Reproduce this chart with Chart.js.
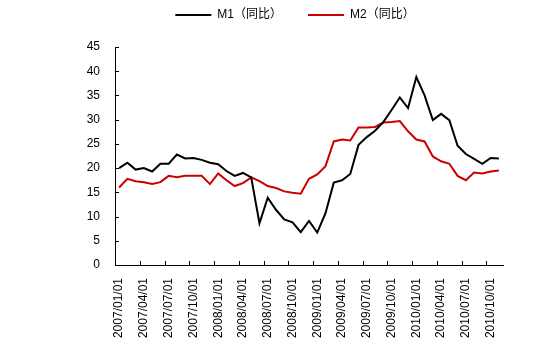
<!DOCTYPE html>
<html lang="zh">
<head>
<meta charset="UTF-8">
<title>M1 / M2 同比</title>
<script src="https://cdn.jsdelivr.net/npm/chart.js"></script>
<style>
    html, body { margin: 0; padding: 0; background: #fff; }
    #wrap { width: 550px; height: 354px; }
</style>
</head>
<body>
<div id="wrap"><canvas id="chart" width="550" height="354"></canvas></div>
<script>
    // 月度数据 2007/01 - 2010/11
    const months = [];
    for (let y = 2007; y <= 2010; y++) {
        for (let m = 1; m <= 12; m++) {
            if (y === 2010 && m > 11) break;
            months.push(y + '/' + String(m).padStart(2, '0') + '/01');
        }
    }

    const m1 = [20.0, 21.1, 19.7, 20.0, 19.3, 20.9, 20.9, 22.8, 22.0, 22.1, 21.7, 21.1,
                20.8, 19.4, 18.4, 19.0, 18.1, 8.6, 13.9, 11.4, 9.4, 8.8, 6.8, 9.1,
                6.7, 10.7, 17.0, 17.5, 18.8, 24.8, 26.4, 27.7, 29.5, 32.0, 34.6, 32.4,
                38.8, 35.0, 29.9, 31.2, 29.9, 24.6, 22.9, 21.9, 20.9, 22.1, 22.0];

    const m2 = [16.0, 17.8, 17.3, 17.1, 16.7, 17.1, 18.4, 18.1, 18.4, 18.4, 18.4, 16.7,
                18.9, 17.5, 16.3, 16.9, 18.1, 17.3, 16.3, 15.9, 15.2, 14.9, 14.7, 17.8,
                18.7, 20.4, 25.5, 25.9, 25.7, 28.4, 28.4, 28.5, 29.4, 29.5, 29.7, 27.6,
                25.9, 25.5, 22.4, 21.4, 20.9, 18.4, 17.5, 19.1, 18.9, 19.3, 19.5];

    const yTicks = [0, 5, 10, 15, 20, 25, 30, 35, 40, 45];
    const labelEvery = 3;

    const FONT = "'Liberation Sans', Arial, 'Noto Sans CJK SC', sans-serif";

    // 刻度线画在坐标轴内侧
    const tickMarks = {
        id: 'tickMarks',
        afterDraw(chart) {
            const { ctx, chartArea, scales: { x, y } } = chart;
            ctx.save();
            ctx.strokeStyle = '#000';
            ctx.lineWidth = 1;
            ctx.beginPath();
            yTicks.forEach(v => {
                const py = Math.round(y.getPixelForValue(v)) + 0.5;
                ctx.moveTo(chartArea.left, py);
                ctx.lineTo(chartArea.left + 4, py);
            });
            const half = (x.getPixelForValue(1) - x.getPixelForValue(0)) / 2;
            for (let i = labelEvery; i < months.length; i += labelEvery) {
                const px = Math.round(x.getPixelForValue(i) - half) + 0.5;
                ctx.moveTo(px, chartArea.bottom);
                ctx.lineTo(px, chartArea.bottom - 4);
            }
            ctx.stroke();
            ctx.restore();
        }
    };

    // 图例高度固定
    const legendHeight = {
        id: 'legendHeight',
        beforeInit(chart) {
            const fit = chart.legend.fit;
            chart.legend.fit = function () {
                fit.call(this);
                this.height = 64;
            };
        }
    };

    new Chart(document.getElementById('chart'), {
        type: 'line',
        data: {
            labels: months,
            datasets: [
                { label: 'M1（同比）', data: m1, borderColor: '#000000', backgroundColor: '#000000',
                  borderWidth: 2, pointRadius: 0, tension: 0 },
                { label: 'M2（同比）', data: m2, borderColor: '#cc0000', backgroundColor: '#cc0000',
                  borderWidth: 2, pointRadius: 0, tension: 0 }
            ]
        },
        options: {
            responsive: false,
            animation: false,
            devicePixelRatio: 1,
            layout: { padding: { left: 87, right: 47, top: -17, bottom: 0 } },
            plugins: {
                tooltip: { enabled: false },
                legend: {
                    position: 'top',
                    labels: {
                        color: '#000',
                        font: { family: FONT, size: 12 },
                        boxWidth: 36,
                        boxHeight: 2,
                        padding: 26,
                        generateLabels(chart) {
                            const items = Chart.defaults.plugins.legend.labels.generateLabels(chart);
                            items.forEach(it => { it.lineWidth = 0; it.fillStyle = it.strokeStyle; });
                            return items;
                        }
                    }
                }
            },
            scales: {
                x: {
                    offset: true,
                    grid: { drawOnChartArea: false, drawTicks: false, offset: true },
                    border: { color: '#000', width: 1 },
                    ticks: {
                        autoSkip: false,
                        minRotation: 90,
                        maxRotation: 90,
                        padding: 13,
                        color: '#000',
                        font: { family: FONT, size: 12 },
                        callback: (v, i) => (i % labelEvery === 0 ? months[i] : '')
                    },
                    afterFit(scale) { scale.height = 89; }
                },
                y: {
                    min: 0,
                    max: 45,
                    grid: { drawOnChartArea: false, drawTicks: false },
                    border: { color: '#000', width: 1 },
                    ticks: {
                        stepSize: 5,
                        padding: 15,
                        color: '#000',
                        font: { family: FONT, size: 12 }
                    },
                    afterFit(scale) { scale.width = 28; }
                }
            }
        },
        plugins: [tickMarks, legendHeight]
    });
</script>
</body>
</html>
